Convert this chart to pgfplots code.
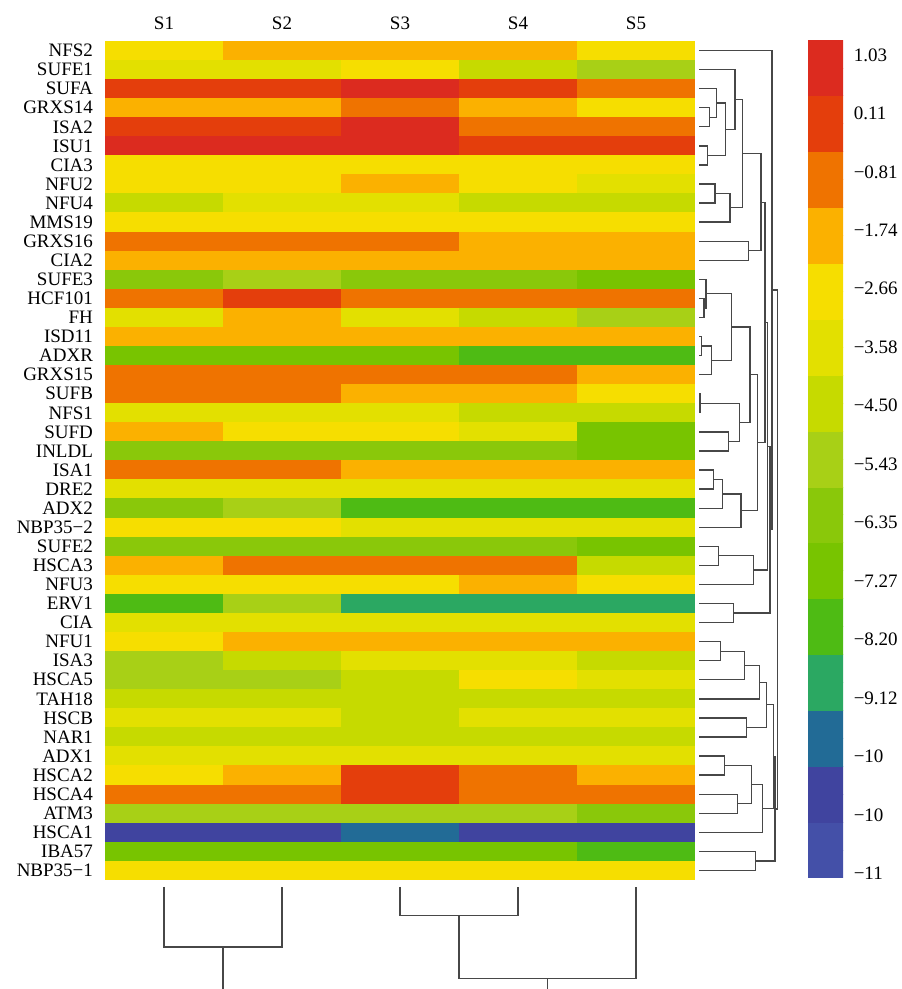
\documentclass[border=0pt]{standalone}
\usepackage{fontspec}
\setmainfont{Liberation Serif}
\usepackage{pgfplots}
\usepackage{pgfplotstable}
\pgfplotsset{compat=1.18}

\pgfdeclareplotmark{cell}{\pgfpathrectangle{\pgfpoint{-29.65pt}{-4.85pt}}{\pgfpoint{59.3pt}{9.7pt}}\pgfusepathqfill}

\pgfplotstableread{
row gene S1 S2 S3 S4 S5
1 NFS2 -2.69 -1.81 -1.81 -1.81 -2.69
2 SUFE1 -3.57 -3.57 -2.69 -4.45 -5.33
3 SUFA -0.05 -0.05 0.83 -0.05 -0.93
4 GRXS14 -1.81 -1.81 -0.93 -1.81 -2.69
5 ISA2 -0.05 -0.05 0.83 -0.93 -0.93
6 ISU1 0.83 0.83 0.83 -0.05 -0.05
7 CIA3 -2.69 -2.69 -2.69 -2.69 -2.69
8 NFU2 -2.69 -2.69 -1.81 -2.69 -3.57
9 NFU4 -4.45 -3.57 -3.57 -4.45 -4.45
10 MMS19 -2.69 -2.69 -2.69 -2.69 -2.69
11 GRXS16 -0.93 -0.93 -0.93 -1.81 -1.81
12 CIA2 -1.81 -1.81 -1.81 -1.81 -1.81
13 SUFE3 -6.21 -5.33 -6.21 -6.21 -7.09
14 HCF101 -0.93 -0.05 -0.93 -0.93 -0.93
15 FH -3.57 -1.81 -3.57 -4.45 -5.33
16 ISD11 -1.81 -1.81 -1.81 -1.81 -1.81
17 ADXR -7.09 -7.09 -7.09 -7.97 -7.97
18 GRXS15 -0.93 -0.93 -0.93 -0.93 -1.81
19 SUFB -0.93 -0.93 -1.81 -1.81 -2.69
20 NFS1 -3.57 -3.57 -3.57 -4.45 -4.45
21 SUFD -1.81 -2.69 -2.69 -3.57 -7.09
22 INLDL -6.21 -6.21 -6.21 -6.21 -7.09
23 ISA1 -0.93 -0.93 -1.81 -1.81 -1.81
24 DRE2 -3.57 -3.57 -3.57 -3.57 -3.57
25 ADX2 -6.21 -5.33 -7.97 -7.97 -7.97
26 NBP35−2 -2.69 -2.69 -3.57 -3.57 -3.57
27 SUFE2 -6.21 -6.21 -6.21 -6.21 -7.09
28 HSCA3 -1.81 -0.93 -0.93 -0.93 -4.45
29 NFU3 -2.69 -2.69 -2.69 -1.81 -2.69
30 ERV1 -7.97 -5.33 -8.85 -8.85 -8.85
31 CIA -3.57 -3.57 -3.57 -3.57 -3.57
32 NFU1 -2.69 -1.81 -1.81 -1.81 -1.81
33 ISA3 -5.33 -4.45 -3.57 -3.57 -4.45
34 HSCA5 -5.33 -5.33 -4.45 -2.69 -3.57
35 TAH18 -4.45 -4.45 -4.45 -4.45 -4.45
36 HSCB -3.57 -3.57 -4.45 -3.57 -3.57
37 NAR1 -4.45 -4.45 -4.45 -4.45 -4.45
38 ADX1 -3.57 -3.57 -3.57 -3.57 -3.57
39 HSCA2 -2.69 -1.81 -0.05 -0.93 -1.81
40 HSCA4 -0.93 -0.93 -0.05 -0.93 -0.93
41 ATM3 -5.33 -5.33 -5.33 -5.33 -6.21
42 HSCA1 -10.61 -10.61 -9.73 -10.61 -10.61
43 IBA57 -7.09 -7.09 -7.09 -7.09 -7.97
44 NBP35−1 -2.69 -2.69 -2.69 -2.69 -2.69
}\hm

\pgfplotsset{
  cellplot/.style={scatter, only marks, mark=cell, scatter src=explicit,
    scatter/use mapped color={draw=none, fill=mapped color}},
  dendro/.style={draw=black!72, line width=0.65pt, unbounded coords=jump, no markers}
}
\newcommand{\lblfont}{\fontsize{9.5}{10}\selectfont}

\begin{document}
\begin{tikzpicture}
\useasboundingbox (0,0) rectangle (450.5pt,494.5pt);
\begin{axis}[
  at={(52.5pt,54.5pt)}, anchor=south west,
  width=295pt, height=419.5pt, scale only axis,
  xmin=0.5, xmax=5.5, ymin=0.5, ymax=44.5, y dir=reverse,
  axis line style={draw=none}, major tick length=0pt,
  xtick={1,2,3,4,5}, xticklabels={S1,S2,S3,S4,S5}, xticklabel pos=upper,
  ytick={1,...,44}, yticklabels from table={\hm}{gene},
  tick label style={font=\lblfont},
  yticklabel style={xshift=-2.5pt},
  xticklabel style={yshift=2pt},
  colormap={hmcol}{
    rgb255(0)=(68,80,168)
    rgb255(1)=(64,68,159)
    rgb255(2)=(34,107,150)
    rgb255(3)=(43,168,98)
    rgb255(4)=(78,187,20)
    rgb255(5)=(120,196,0)
    rgb255(6)=(138,200,10)
    rgb255(7)=(168,208,22)
    rgb255(8)=(198,218,0)
    rgb255(9)=(227,224,0)
    rgb255(10)=(246,222,0)
    rgb255(11)=(251,177,0)
    rgb255(12)=(239,115,0)
    rgb255(13)=(228,62,12)
    rgb255(14)=(220,43,31)
    rgb255(15)=(220,43,31)
  },
  colormap access=piecewise constant,
  point meta min=-11.934, point meta max=1.266,
  colorbar sampled,
  colorbar style={
    at={(parent axis.north east)}, anchor=north west,
    xshift=48pt, yshift=0.5pt,
    width=17.5pt, height=419pt, scale only axis,
    samples=31, shader=flat mean,
    axis line style={draw=none}, major tick length=0pt,
    ytick={1.03,0.1093,-0.8114,-1.7321,-2.6528,-3.5735,-4.4942,-5.4149,-6.3356,-7.2563,-8.177,-9.0977,-10.0184,-10.9391,-11.8598},
    yticklabels={1.03,0.11,−0.81,−1.74,−2.66,−3.58,−4.50,−5.43,−6.35,−7.27,−8.20,−9.12,−10,−10,−11},
    yticklabel style={font=\lblfont, xshift=1.8pt},
  },
]
\addplot[cellplot] table[x expr=1, y=row, meta=S1] {\hm};
\addplot[cellplot] table[x expr=2, y=row, meta=S2] {\hm};
\addplot[cellplot] table[x expr=3, y=row, meta=S3] {\hm};
\addplot[cellplot] table[x expr=4, y=row, meta=S4] {\hm};
\addplot[cellplot] table[x expr=5, y=row, meta=S5] {\hm};
\end{axis}

% row dendrogram
\begin{axis}[
  at={(347.5pt,54.5pt)}, anchor=south west,
  width=47.5pt, height=419.5pt, scale only axis,
  xmin=695, xmax=790, ymin=0.5, ymax=44.5, y dir=reverse,
  hide axis, clip=false,
]
\addplot[dendro] coordinates {
(699,4) (709.3,4) (709.3,5) (699,5) (nan,nan)
(699,3) (716.7,3) (716.7,4.5) (709.3,4.5) (nan,nan)
(699,6) (707.3,6) (707.3,7) (699,7) (nan,nan)
(716.7,3.75) (725.7,3.75) (725.7,6.5) (707.3,6.5) (nan,nan)
(699,2) (735,2) (735,5.125) (725.7,5.125) (nan,nan)
(699,8) (715,8) (715,9) (699,9) (nan,nan)
(715,8.5) (730,8.5) (730,10) (699,10) (nan,nan)
(735,3.5625) (742.3,3.5625) (742.3,9.25) (730,9.25) (nan,nan)
(699,11) (748.3,11) (748.3,12) (699,12) (nan,nan)
(742.3,6.406) (761,6.406) (761,11.5) (748.3,11.5) (nan,nan)
(699,14) (704,14) (704,15) (699,15) (nan,nan)
(699,13) (706,13) (706,14.5) (704,14.5) (nan,nan)
(699,16) (701.7,16) (701.7,17) (699,17) (nan,nan)
(701.7,16.5) (711.7,16.5) (711.7,18) (699,18) (nan,nan)
(706,13.75) (731.7,13.75) (731.7,17.25) (711.7,17.25) (nan,nan)
(699,19) (700,19) (700,20) (699,20) (nan,nan)
(699,21) (728.3,21) (728.3,22) (699,22) (nan,nan)
(700,19.5) (739.3,19.5) (739.3,21.5) (728.3,21.5) (nan,nan)
(731.7,15.5) (750,15.5) (750,20.5) (739.3,20.5) (nan,nan)
(699,23) (713.3,23) (713.3,24) (699,24) (nan,nan)
(713.3,23.5) (722.3,23.5) (722.3,25) (699,25) (nan,nan)
(722.3,24.25) (741,24.25) (741,26) (699,26) (nan,nan)
(750,18) (757.7,18) (757.7,25.125) (741,25.125) (nan,nan)
(699,27) (718.3,27) (718.3,28) (699,28) (nan,nan)
(718.3,27.5) (753.3,27.5) (753.3,29) (699,29) (nan,nan)
(699,30) (733.3,30) (733.3,31) (699,31) (nan,nan)
(761,8.953) (765,8.953) (765,21.5625) (757.7,21.5625) (nan,nan)
(765,15.258) (767.3,15.258) (767.3,28.25) (753.3,28.25) (nan,nan)
(767.3,21.754) (770,21.754) (770,30.5) (733.3,30.5) (nan,nan)
(699,1) (772,1) (772,26.127) (770,26.127) (nan,nan)
(699,32) (720.7,32) (720.7,33) (699,33) (nan,nan)
(720.7,32.5) (744.3,32.5) (744.3,34) (699,34) (nan,nan)
(744.3,33.25) (759.3,33.25) (759.3,35) (699,35) (nan,nan)
(699,36) (746.7,36) (746.7,37) (699,37) (nan,nan)
(759.3,34.125) (766.7,34.125) (766.7,36.5) (746.7,36.5) (nan,nan)
(699,38) (724.3,38) (724.3,39) (699,39) (nan,nan)
(699,40) (737.3,40) (737.3,41) (699,41) (nan,nan)
(724.3,38.5) (751.7,38.5) (751.7,40.5) (737.3,40.5) (nan,nan)
(751.7,39.5) (762.7,39.5) (762.7,42) (699,42) (nan,nan)
(766.7,35.31) (773.3,35.31) (773.3,40.75) (762.7,40.75) (nan,nan)
(699,43) (755.7,43) (755.7,44) (699,44) (nan,nan)
(773.3,38.03) (775,38.03) (775,43.5) (755.7,43.5) (nan,nan)
(772,13.56) (777.5,13.56) (777.5,40.77) (775,40.77)
};
\end{axis}

% column dendrogram
\begin{axis}[
  at={(52.5pt,0pt)}, anchor=south west,
  width=295pt, height=54.5pt, scale only axis,
  xmin=0.5, xmax=5.5, ymin=880, ymax=989, y dir=reverse,
  hide axis, clip=false,
]
\addplot[dendro] coordinates {
(1,887) (1,947) (2,947) (2,887) (nan,nan)
(1.5,947) (1.5,989) (nan,nan)
(3,887) (3,915.4) (4,915.4) (4,887) (nan,nan)
(3.5,915.4) (3.5,978.8) (5,978.8) (5,887) (nan,nan)
(4.25,978.8) (4.25,989)
};
\end{axis}
\end{tikzpicture}
\end{document}
